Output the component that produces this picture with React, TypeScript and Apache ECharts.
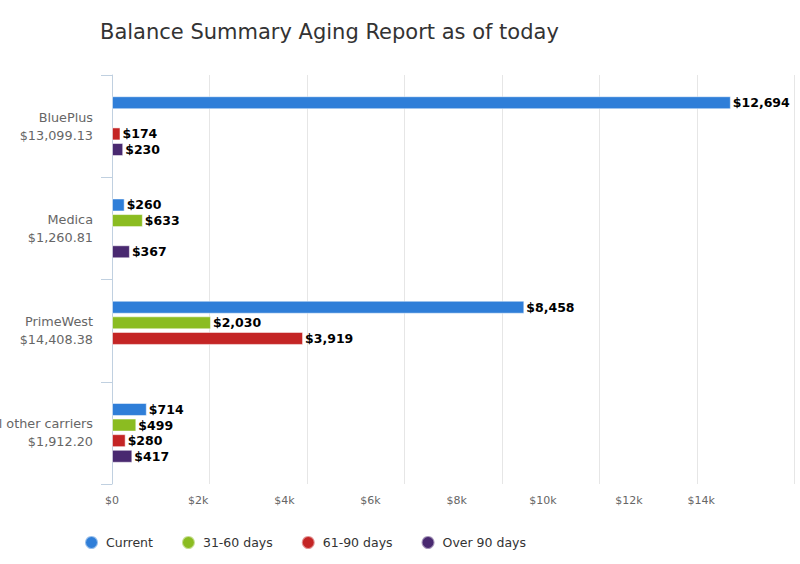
import React, { useEffect, useRef } from "react";
import * as echarts from "echarts";

const categories = ["BluePlus", "Medica", "PrimeWest", "All other carriers"];
const totals = ["$13,099.13", "$1,260.81", "$14,408.38", "$1,912.20"];
const seriesNames = ["Current", "31-60 days", "61-90 days", "Over 90 days"];
const current = [12694, 260, 8458, 714];
const days31to60 = [null, 633, 2030, 499];
const days61to90 = [174, null, 3919, 280];
const over90 = [230, 367, null, 417];
const colors = ["#2f7ed8", "#8bbc21", "#c42525", "#492970"];

const FONT = "DejaVu Sans";

export default function App() {
  const ref = useRef<HTMLDivElement>(null);
  useEffect(() => {
    document.body.style.margin = "0";
    const chart = echarts.init(ref.current!, null, { renderer: "svg" });
    const dataSets = [current, days31to60, days61to90, over90];
    const fmtMoney = (v: number) => "$" + v.toLocaleString("en-US");
    chart.setOption({
      animation: false,
      textStyle: { fontFamily: FONT },
      title: {
        text: "Balance Summary Aging Report as of today",
        left: 100,
        top: 21,
        padding: 0,
        textStyle: { fontFamily: FONT, fontSize: 21, fontWeight: "normal", color: "#333" },
      },
      legend: {
        left: 84,
        top: 535,
        padding: 0,
        icon: "circle",
        itemWidth: 13,
        itemHeight: 13,
        itemGap: 28,
        textStyle: { fontFamily: FONT, fontSize: 12.5, color: "#333", padding: [0, 0, 0, 3] },
        data: seriesNames,
      },
      grid: { left: 112, right: 5.5, top: 75, bottom: 80, containLabel: false, outerBoundsMode: "none" },
      xAxis: [
        {
          type: "value",
          min: 0,
          max: 14000,
          interval: 2000,
          axisLabel: { show: false },
          axisLine: { show: false },
          axisTick: { show: false },
          splitLine: { show: true, lineStyle: { color: "#e6e6e6", width: 1 } },
        },
        {
          type: "value",
          position: "bottom",
          min: 0,
          max: 15840,
          interval: 2000,
          axisLine: { show: false },
          axisTick: { show: false },
          splitLine: { show: false },
          axisLabel: {
            show: true,
            margin: 11,
            showMaxLabel: false,
            color: "#666",
            fontFamily: FONT,
            fontSize: 11,
            formatter: (v: number) => {
              if (v % 2000 !== 0) return "";
              const t = v === 0 ? "$0" : "$" + v / 1000 + "k";
              return v === 14000 ? "{s|" + t + "}" : t;
            },
            rich: { s: { padding: [0, 28, 0, 0], color: "#666", fontFamily: FONT, fontSize: 11 } },
          },
        },
      ],
      yAxis: {
        type: "category",
        inverse: true,
        data: categories,
        axisLine: { show: true, lineStyle: { color: "#C0D0E0" } },
        axisTick: { show: true, length: 11, lineStyle: { color: "#C0D0E0" } },
        axisLabel: {
          margin: 19,
          color: "#666",
          fontFamily: FONT,
          fontSize: 12.8,
          lineHeight: 18,
          align: "right",
          formatter: (value: string, idx: number) => value + "\n" + totals[idx],
        },
      },
      series: seriesNames.map((name, i) => ({
        name,
        type: "bar",
        xAxisIndex: 0,
        data: dataSets[i],
        barWidth: 13,
        barGap: "20%",
        itemStyle: { color: colors[i], borderColor: "rgba(255,255,255,0.5)", borderWidth: 1 },
        label: {
          show: true,
          position: "right",
          distance: 2,
          color: "#000",
          fontFamily: FONT,
          fontWeight: "bold",
          fontSize: 12.5,
          formatter: (p: any) => fmtMoney(p.value),
        },
      })),
    });
    return () => chart.dispose();
  }, []);
  return <div ref={ref} style={{ width: 800, height: 564 }} />;
}
